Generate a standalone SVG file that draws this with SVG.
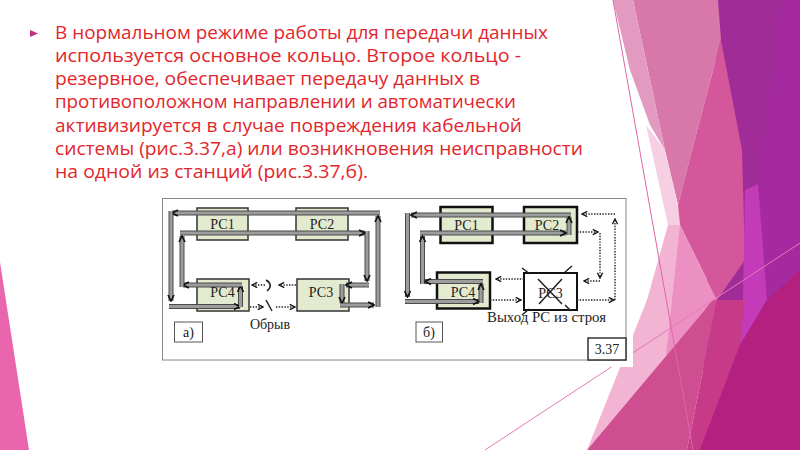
<svg xmlns="http://www.w3.org/2000/svg" width="800" height="450" viewBox="0 0 800 450">
<defs>
<style>
.txt{font-family:"Open Sans","Noto Sans","DejaVu Sans",sans-serif;font-size:18.5px;fill:#e2262b}
.lbl{font-family:"Liberation Serif","Times New Roman",serif;font-size:14px;fill:#222;text-anchor:middle}
.cap{font-family:"Liberation Serif","Times New Roman",serif;font-size:14px;fill:#222}
.bxa{fill:#e2eacf;stroke:#333;stroke-width:1.5}
.bxb{fill:#e2eacf;stroke:#111;stroke-width:2.5}
.ro{fill:none;stroke:#4a4a4a;stroke-width:5}
.ri{fill:none;stroke:#9c9c9c;stroke-width:3;marker-end:url(#ah)}
.dt{fill:none;stroke:#222;stroke-width:1.4;stroke-dasharray:1.4 1.4;marker-end:url(#ahs)}
.tk{fill:none;stroke:#222;stroke-width:1.5}
</style>
<marker id="ah" viewBox="0 0 8 8" refX="7" refY="4" markerWidth="8" markerHeight="8" markerUnits="userSpaceOnUse" orient="auto"><path d="M1,1 L7,4 L1,7" fill="none" stroke="#111" stroke-width="1.6"/></marker>
<marker id="ahs" viewBox="0 0 8 8" refX="7" refY="4" markerWidth="7" markerHeight="7" markerUnits="userSpaceOnUse" orient="auto"><path d="M1,1 L7,4 L1,7" fill="none" stroke="#111" stroke-width="1.5"/></marker>
</defs>
<g id="background">
<rect x="0" y="0" width="800" height="450" fill="#ffffff"/>
<polygon points="0,262 0,450 29,450" fill="#e966ae"/>
<polygon points="718,0 800,0 800,450 700,450" fill="#a02c97"/>
<polygon points="782,0 800,0 800,270 767,300 757,225 763,150" fill="#a52aa0"/>
<polygon points="633,0 718,0 721,40 692,150 678,205 665,150" fill="#d877aa"/>
<polygon points="613,0 633,0 665,150 650,125 630,70" fill="#e39ac1"/>
<polygon points="646,125 665,150 678,205 680,225 668,225" fill="#f6d0e2"/>
<polygon points="721,40 742,150 745,260 717,300 680,225 678,205 692,150" fill="#d4579b"/>
<polygon points="668,225 680,225 700,280 713,300 587,450 647,300" fill="#f3b3d3"/>
<polygon points="680,225 717,300 713,300 666,356 672,300" fill="#ec8fc3"/>
<polygon points="745,190 758,184 767,300 740,345 743,300" fill="#c43bb9"/>
<polygon points="713,300 717,300 687,450 587,450" fill="#cf4e92"/>
<polygon points="717,300 745,300 740,345 700,450 687,450" fill="#c63a88"/>
<polygon points="767,300 800,270 800,450 700,450 740,345" fill="#b42080"/>
<line x1="613" y1="0" x2="693" y2="450" stroke="#e064a8" stroke-width="1"/>
<line x1="485" y1="450" x2="800" y2="243" stroke="#e878b8" stroke-width="1"/>
<rect x="150" y="190" width="483" height="177" fill="#ffffff"/>
</g>
<g id="slide-text">
<polygon points="30,30 38,33.5 30,37" fill="#c2307f"/>
<text class="txt" x="55" y="38.5" textLength="493" lengthAdjust="spacingAndGlyphs">В нормальном режиме работы для передачи данных</text>
<text class="txt" x="55" y="61.8" textLength="466" lengthAdjust="spacingAndGlyphs">используется основное кольцо. Второе кольцо -</text>
<text class="txt" x="55" y="85.1" textLength="425" lengthAdjust="spacingAndGlyphs">резервное, обеспечивает передачу данных в</text>
<text class="txt" x="55" y="108.4" textLength="461" lengthAdjust="spacingAndGlyphs">противоположном направлении и автоматически</text>
<text class="txt" x="55" y="131.7" textLength="467" lengthAdjust="spacingAndGlyphs">активизируется в случае повреждения кабельной</text>
<text class="txt" x="55" y="155" textLength="528" lengthAdjust="spacingAndGlyphs">системы (рис.3.37,а) или возникновения неисправности</text>
<text class="txt" x="55" y="178.3" textLength="313" lengthAdjust="spacingAndGlyphs">на одной из станций (рис.3.37,б).</text>
</g>
<g id="figure-frame">
<rect x="162.5" y="198.5" width="463.5" height="161.5" fill="#fff" stroke="#888" stroke-width="1"/>
</g>
<g id="a-PC1"><rect class="bxa" x="197" y="208" width="51" height="32"/></g>
<g id="a-PC2"><rect class="bxa" x="296" y="208" width="52" height="32"/></g>
<g id="a-PC4"><rect class="bxa" x="197" y="279" width="52" height="32"/></g>
<g id="a-PC3"><rect class="bxa" x="297" y="279" width="52" height="32"/></g>
<g id="b-PC1"><rect class="bxb" x="440.5" y="207" width="52" height="36"/></g>
<g id="b-PC2"><rect class="bxb" x="524" y="207" width="53" height="36"/></g>
<g id="b-PC4"><rect class="bxb" x="437" y="272.5" width="53" height="36"/></g>
<g id="b-PC3"><rect x="524" y="273" width="53" height="37" fill="#fff" stroke="#111" stroke-width="2"/></g>
<g id="connectors">
<g id="ring-outline">
<path class="ro" d="M380,213 H172"/>
<path class="ro" d="M171,211 V301"/>
<path class="ro" d="M169,306.5 H240"/>
<path class="ro" d="M240.5,307 V286"/>
<path class="ro" d="M242,285 H183"/>
<path class="ro" d="M182,287 V236"/>
<path class="ro" d="M180,233 H365"/>
<path class="ro" d="M367,231 V281"/>
<path class="ro" d="M369,285 H346"/>
<path class="ro" d="M342,284 V303"/>
<path class="ro" d="M340,305 H374"/>
<path class="ro" d="M378,307 V216"/>
<path class="ro" d="M571,215 H411"/>
<path class="ro" d="M407.5,213 V297"/>
<path class="ro" d="M405,301.5 H479"/>
<path class="ro" d="M481,303 V284"/>
<path class="ro" d="M483,281.5 H425"/>
<path class="ro" d="M422.5,284 V236"/>
<path class="ro" d="M420,233 H566"/>
<path class="ro" d="M569,235 V217"/>
</g>
<g id="ring-inner">
<path class="ri" d="M380,213 H172"/>
<path class="ri" d="M171,211 V301"/>
<path class="ri" d="M169,306.5 H240"/>
<path class="ri" d="M240.5,307 V286"/>
<path class="ri" d="M242,285 H183"/>
<path class="ri" d="M182,287 V236"/>
<path class="ri" d="M180,233 H365"/>
<path class="ri" d="M367,231 V281"/>
<path class="ri" d="M369,285 H346"/>
<path class="ri" d="M342,284 V303"/>
<path class="ri" d="M340,305 H374"/>
<path class="ri" d="M378,307 V216"/>
<path class="ri" d="M571,215 H411"/>
<path class="ri" d="M407.5,213 V297"/>
<path class="ri" d="M405,301.5 H479"/>
<path class="ri" d="M481,303 V284"/>
<path class="ri" d="M483,281.5 H425"/>
<path class="ri" d="M422.5,284 V236"/>
<path class="ri" d="M420,233 H566"/>
<path class="ri" d="M569,235 V217"/>
</g>
<g id="dotted">
<path class="dt" d="M296,285 H279"/>
<path class="dt" d="M265,285 H252"/>
<path class="dt" d="M250,307 H263"/>
<path class="dt" d="M276,307 H295"/>
<path class="tk" d="M266,280 Q274,285 267,291"/>
<path class="tk" d="M266,300 L272,311"/>
<path class="dt" d="M615,300 V219"/>
<path class="dt" d="M615,214 H582"/>
<path class="dt" d="M577,232 H598"/>
<path class="dt" d="M600,233 V278"/>
<path class="dt" d="M600,281 H584"/>
<path class="dt" d="M577,300 H614"/>
<path class="dt" d="M524,279 H496"/>
<path class="dt" d="M490,300 H521"/>
</g>
</g>
<g id="labels">
<text class="lbl" x="222.5" y="228.5">РС1</text>
<text class="lbl" x="322" y="228.5">РС2</text>
<text class="lbl" x="222.5" y="297">РС4</text>
<text class="lbl" x="321" y="297">РС3</text>
<text class="lbl" x="466.5" y="229.5">РС1</text>
<text class="lbl" x="547" y="229.5">РС2</text>
<text class="lbl" x="463" y="297">РС4</text>
<text class="lbl" x="550.5" y="298">РС3</text>
</g>
<g id="b-PC3-cross">
<path class="tk" d="M538,279 L562,304 M562,279 L539,304 M522,268 L530,274 M565,272 L572,266 M522,315 L529,309 M565,305 L571,311"/>
</g>
<g id="captions">
<text class="cap" x="270" y="329" text-anchor="middle">Обрыв</text>
<text class="cap" x="487" y="322" textLength="119" lengthAdjust="spacingAndGlyphs">Выход РС из строя</text>
<rect x="174.5" y="322" width="28" height="20" fill="#fff" stroke="#555" stroke-width="1"/>
<text class="lbl" x="188.5" y="337">а)</text>
<rect x="416" y="322" width="26.5" height="20" fill="#fff" stroke="#555" stroke-width="1"/>
<text class="lbl" x="429" y="337">б)</text>
<rect x="588" y="338" width="38" height="22" fill="#fff" stroke="#333" stroke-width="1.5"/>
<text class="lbl" x="607" y="354">3.37</text>
</g>
</svg>
